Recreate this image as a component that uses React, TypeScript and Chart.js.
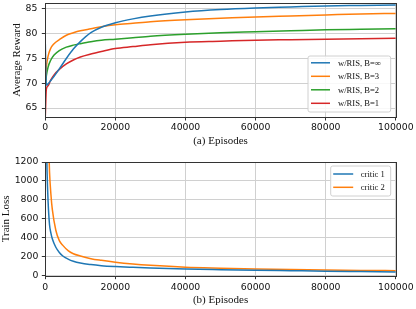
import React, { useEffect, useRef } from "react";
import { Chart, registerables } from "chart.js";

Chart.register(...registerables);

// ---------- Data: (a) Average Reward ----------
const rewardEpisodes = [0, 300, 800, 1500, 2500, 4000, 6000, 8000, 10000, 13000, 16000, 20000, 25000, 30000, 40000, 50000, 60000, 70000, 80000, 90000, 100000];
const rewardBInf = [78.0, 69.6, 69.9, 70.5, 71.4, 72.9, 75.0, 76.9, 78.4, 80.2, 81.3, 82.2, 83.0, 83.6, 84.4, 84.9, 85.2, 85.4, 85.6, 85.7, 85.8];
const rewardB3 = [70.5, 73.3, 75.5, 77.0, 78.0, 78.8, 79.7, 80.2, 80.6, 81.0, 81.4, 81.8, 82.1, 82.4, 82.8, 83.1, 83.4, 83.6, 83.8, 84.0, 84.1];
const rewardB2 = [69.5, 71.5, 73.3, 74.6, 75.7, 76.6, 77.3, 77.7, 78.0, 78.4, 78.7, 78.9, 79.2, 79.5, 79.9, 80.2, 80.4, 80.6, 80.8, 80.9, 81.0];
const rewardB1 = [63.3, 68.8, 69.5, 70.6, 71.7, 72.8, 73.9, 74.7, 75.3, 75.9, 76.4, 77.0, 77.4, 77.8, 78.3, 78.5, 78.7, 78.8, 78.9, 79.0, 79.1];
const rewardLabels = ["w/RIS, B=\u221e", "w/RIS, B=3", "w/RIS, B=2", "w/RIS, B=1"];
const rewardTicks = [65, 70, 75, 80, 85];

// ---------- Data: (b) Train Loss ----------
const lossEpisodes = [0, 200, 500, 800, 1200, 1600, 2000, 3000, 4000, 5000, 6500, 8000, 10000, 13000, 16000, 20000, 25000, 30000, 40000, 50000, 60000, 70000, 80000, 90000, 100000];
const critic1Loss = [2500, 1700, 1100, 780, 540, 450, 390, 300, 245, 208, 175, 152, 133, 117, 106, 97, 89, 82, 71, 64, 58, 53, 48, 44, 40];
const critic2Loss = [5000, 3500, 2200, 1600, 1100, 860, 700, 480, 370, 320, 265, 232, 208, 180, 162, 142, 123, 109, 89, 79, 71, 65, 60, 56, 53];
const lossLabels = ["critic 1", "critic 2"];
const lossTicks = [0, 200, 400, 600, 800, 1000, 1200];

const episodeTicks = [0, 20000, 40000, 60000, 80000, 100000];

const COLORS = ["#1f77b4", "#ff7f0e", "#2ca02c", "#d62728"];
const TICK_FONT = { family: "DejaVu Sans", size: 9.3 };
const SERIF = "Liberation Serif";

const framePlugin = {
  id: "frame",
  afterDatasetsDraw(chart: any, _args: any, opts: any) {
    const { ctx, chartArea: a } = chart;
    ctx.save();
    ctx.strokeStyle = "#333";
    ctx.lineWidth = 1;
    ctx.strokeRect(Math.round(a.left) + 0.5, Math.round(a.top) + 0.5, Math.round(a.right - a.left), Math.round(a.bottom - a.top));
    const lg = opts && opts.box;
    if (lg) {
      const x0 = a.right - lg.right - lg.w;
      const y0 = lg.top != null ? a.top + lg.top : a.bottom - lg.bottom - lg.h;
      ctx.fillStyle = "rgba(255,255,255,0.85)";
      ctx.strokeStyle = "#d0d0d0";
      ctx.lineWidth = 1;
      ctx.beginPath();
      const r = 2;
      ctx.moveTo(x0 + r, y0);
      ctx.lineTo(x0 + lg.w - r, y0);
      ctx.quadraticCurveTo(x0 + lg.w, y0, x0 + lg.w, y0 + r);
      ctx.lineTo(x0 + lg.w, y0 + lg.h - r);
      ctx.quadraticCurveTo(x0 + lg.w, y0 + lg.h, x0 + lg.w - r, y0 + lg.h);
      ctx.lineTo(x0 + r, y0 + lg.h);
      ctx.quadraticCurveTo(x0, y0 + lg.h, x0, y0 + lg.h - r);
      ctx.lineTo(x0, y0 + r);
      ctx.quadraticCurveTo(x0, y0, x0 + r, y0);
      ctx.closePath();
      ctx.fill();
      ctx.stroke();
      ctx.font = `${lg.fontSize}px "${SERIF}"`;
      ctx.textBaseline = "middle";
      ctx.textAlign = "left";
      chart.data.datasets.forEach((ds: any, i: number) => {
        const yy = y0 + lg.row0 + i * lg.rowH;
        ctx.strokeStyle = ds.borderColor;
        ctx.lineWidth = 1.5;
        ctx.beginPath();
        ctx.moveTo(x0 + lg.lineX, yy);
        ctx.lineTo(x0 + lg.lineX + lg.lineLen, yy);
        ctx.stroke();
        ctx.fillStyle = "#111";
        ctx.fillText(ds.label, x0 + lg.textX, yy + 0.5);
      });
    }
    ctx.restore();
  },
};

function makeAxisFit(size: number, horizontal: boolean) {
  return (s: any) => {
    if (horizontal) s.height = size;
    else s.width = size;
    s.paddingLeft = 0;
    s.paddingRight = 0;
    s.paddingTop = 0;
    s.paddingBottom = 0;
  };
}

function series(xs: number[], ys: number[]) {
  return xs.map((x, i) => ({ x, y: ys[i] }));
}

function xScale(title: string, height: number, tickPad: number) {
  return {
    type: "linear",
    min: 0,
    max: 100000,
    afterBuildTicks: (s: any) => {
      s.ticks = episodeTicks.map((v) => ({ value: v }));
    },
    afterFit: makeAxisFit(height, true),
    grid: { color: "#d0d0d0", lineWidth: 1, tickLength: 3.5, tickColor: "#333", drawTicks: true },
    border: { display: false },
    ticks: {
      font: TICK_FONT,
      color: "#111",
      padding: tickPad,
      maxRotation: 0,
      autoSkip: false,
      callback: (v: any) => String(v),
    },
    title: {
      display: true,
      text: title,
      font: { family: SERIF, size: 11 },
      color: "#111",
      padding: { top: 0, bottom: 2.4 },
    },
  };
}

function yScale(title: string, min: number, max: number, ticks: number[], tickPad: number, titlePad: number) {
  return {
    type: "linear",
    min,
    max,
    afterBuildTicks: (s: any) => {
      s.ticks = ticks.map((v) => ({ value: v }));
    },
    afterFit: makeAxisFit(45.3, false),
    grid: { color: "#d0d0d0", lineWidth: 1, tickLength: 3.5, tickColor: "#333", drawTicks: true },
    border: { display: false },
    ticks: {
      font: TICK_FONT,
      color: "#111",
      padding: tickPad,
      autoSkip: false,
      callback: (v: any) => String(v),
    },
    title: {
      display: true,
      text: title,
      font: { family: SERIF, size: 11 },
      color: "#111",
      padding: { top: titlePad, bottom: 0 },
    },
  };
}

function topConfig(): any {
  const ys = [rewardBInf, rewardB3, rewardB2, rewardB1];
  return {
    type: "line",
    data: {
      datasets: ys.map((y, i) => ({
        label: rewardLabels[i],
        data: series(rewardEpisodes, y),
        borderColor: COLORS[i],
        borderWidth: 1.5,
        pointRadius: 0,
        fill: false,
        cubicInterpolationMode: "monotone",
      })),
    },
    options: {
      responsive: false,
      animation: false,
      devicePixelRatio: 1,
      layout: { padding: { left: 0, right: 20.2, top: 3, bottom: 0 } },
      scales: {
        x: xScale("(a) Episodes", 33, 1.5),
        y: yScale("Average Reward", 63.2, 86.2, rewardTicks, 4.5, 10.4),
      },
      plugins: {
        legend: { display: false },
        tooltip: { enabled: false },
        frame: {
          box: { right: 5.1, bottom: 5, w: 82.7, h: 56, row0: 6.8, rowH: 13.5, lineX: 3, lineLen: 19, textX: 30, fontSize: 8.6 },
        },
      },
    },
    plugins: [framePlugin],
  };
}

function bottomConfig(): any {
  const ys = [critic1Loss, critic2Loss];
  return {
    type: "line",
    data: {
      datasets: ys.map((y, i) => ({
        label: lossLabels[i],
        data: series(lossEpisodes, y),
        borderColor: COLORS[i],
        borderWidth: 1.5,
        pointRadius: 0,
        fill: false,
        cubicInterpolationMode: "monotone",
      })),
    },
    options: {
      responsive: false,
      animation: false,
      devicePixelRatio: 1,
      layout: { padding: { left: 0, right: 20.2, top: 12, bottom: 0 } },
      scales: {
        x: xScale("(b) Episodes", 33.3, 2.5),
        y: yScale("Train Loss", 0, 1200, lossTicks, 3.5, 0),
      },
      plugins: {
        legend: { display: false },
        tooltip: { enabled: false },
        frame: {
          box: { right: 5.1, top: 4, w: 60, h: 30, row0: 8, rowH: 13.3, lineX: 2.5, lineLen: 20, textX: 30, fontSize: 8.6 },
        },
      },
    },
    plugins: [framePlugin],
  };
}

export default function App() {
  const topRef = useRef<HTMLCanvasElement>(null);
  const botRef = useRef<HTMLCanvasElement>(null);
  useEffect(() => {
    const c1 = new Chart(topRef.current as HTMLCanvasElement, topConfig());
    const c2 = new Chart(botRef.current as HTMLCanvasElement, bottomConfig());
    return () => {
      c1.destroy();
      c2.destroy();
    };
  }, []);
  return (
    <div style={{ position: "absolute", left: 0, top: 0, width: 416, height: 309, background: "#fff" }}>
      <canvas ref={topRef} width={416} height={150} style={{ position: "absolute", left: 0, top: 0 }} />
      <canvas ref={botRef} width={416} height={159} style={{ position: "absolute", left: 0, top: 150 }} />
    </div>
  );
}
